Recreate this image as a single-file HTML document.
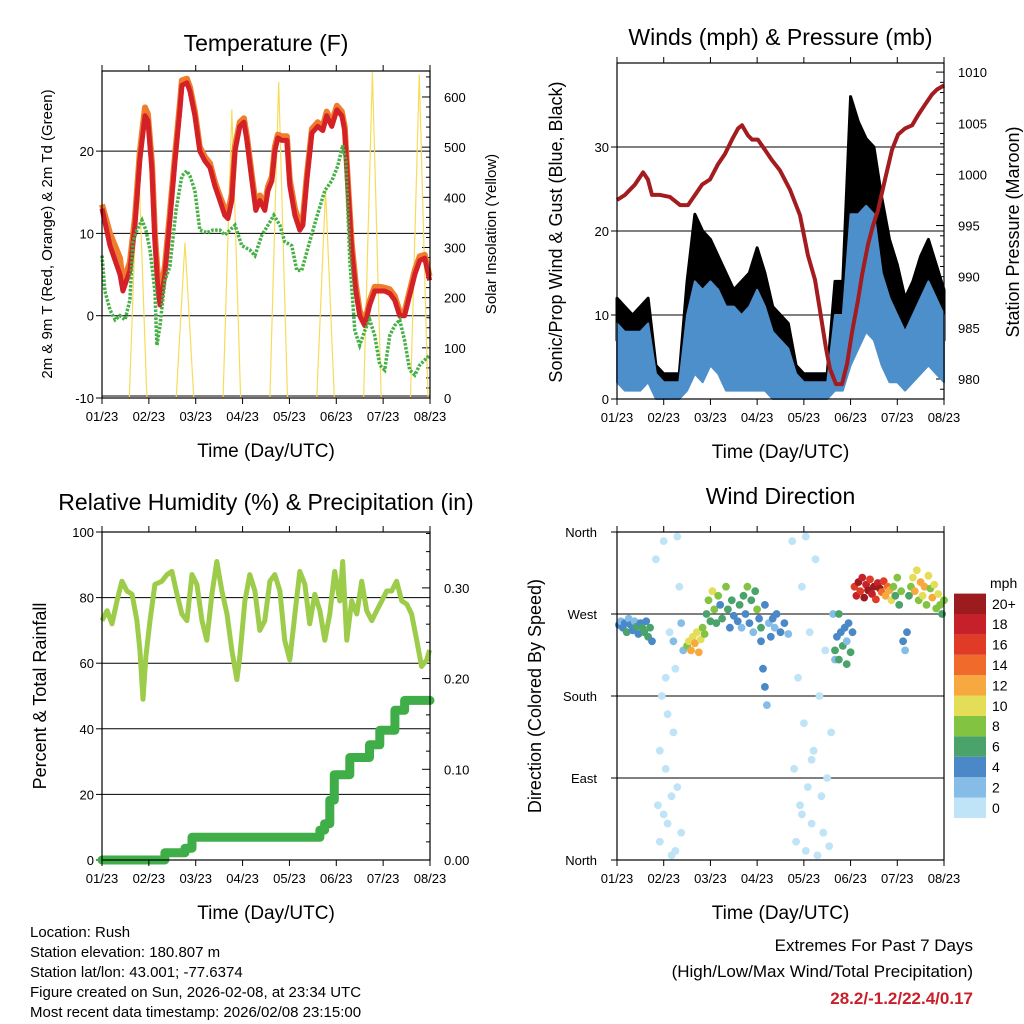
<!DOCTYPE html>
<html><head><meta charset="utf-8"><title>Station Meteogram - Rush</title>
<style>
html,body{margin:0;padding:0;background:#fff;}
svg{display:block;font-family:"Liberation Sans",Arial,sans-serif;}
</style></head>
<body>
<svg id="fig" xmlns="http://www.w3.org/2000/svg" width="1024" height="1024" viewBox="0 0 1024 1024">
<rect width="1024" height="1024" fill="#fff"/>
<g id="p1"></g>
<g id="p2"></g>
<g id="p3"></g>
<g id="p4"></g>
<g font-size="15" fill="#000">
<text x="30" y="937">Location: Rush</text>
<text x="30" y="957">Station elevation: 180.807 m</text>
<text x="30" y="977">Station lat/lon: 43.001; -77.6374</text>
<text x="30" y="997">Figure created on Sun, 2026-02-08, at 23:34 UTC</text>
<text x="30" y="1017">Most recent data timestamp: 2026/02/08 23:15:00</text>
</g>
<g text-anchor="end">
<text x="973" y="951" font-size="17">Extremes For Past 7 Days</text>
<text x="973" y="977" font-size="17">(High/Low/Max Wind/Total Precipitation)</text>
<text x="973" y="1004" font-size="17" font-weight="bold" fill="#c8202a">28.2/-1.2/22.4/0.17</text>
</g>
</svg>
<script>
// ---------- DATA ----------
const xTickLabels = ["01/23","02/23","03/23","04/23","05/23","06/23","07/23","08/23"];
// Temperature panel
const tempHours = [0,4.1,9.2,10.7,14.3,16.9,19.4,22,23.5,25.6,27.1,28.7,29.7,32.2,34.8,37.4,39.9,40.9,43.5,45,47.6,50.1,52.7,55.3,57.8,60.4,62.9,64.5,66.5,68.1,70.6,72.7,74.2,76.8,78.8,80.8,83.4,85,87,88.5,90.1,92.1,94.7,96.2,98.8,101.3,102.9,104.9,107.5,110.5,113.1,115.1,117.7,120.3,122.8,124.3,125.9,127.9,130,132,134.6,137.1,139.7,142.3,144.8,147.4,149.9,152.5,155,157.6,160.2,162.7,165.3,167.8];
const temp2m = [13,8.5,5,3,5.5,11,19,24.3,23.7,17.6,9,3,1.3,5,11.6,18.8,25,28,28.3,27.3,24.3,20,18.8,18,15.8,14,12.2,11.8,14,20,23,23.5,21.3,16.4,12.8,14,12.8,15.2,16.4,20,21.6,21.3,21.3,15.8,12.2,10.4,11,16.4,22.2,23,22.5,24.3,23,25,24.3,22.5,15.8,8,3,0,-1.2,1.3,3,3,3,2.7,1.9,0,0,2.5,5,6.7,7,4.3];
const temp9m = [13.5,10,7,4,6.5,12,20,25.3,24.5,18.5,10,4.5,2.5,6,12.5,19.5,25.8,28.6,28.8,27.8,24.8,20.5,19.3,18.5,16.3,14.5,13,12.5,14.8,20.6,23.5,24,21.8,17,13.5,14.6,13.5,15.7,16.9,20.5,22,21.8,21.8,16.5,13,11.2,11.8,17,22.7,23.5,23,24.8,23.5,25.5,24.8,23,16.5,8.8,3.8,0.6,-0.8,1.8,3.5,3.5,3.4,3.2,2.4,0.5,0.5,3,5.5,7.2,7.4,4.8];
const dewHours = [0,1.5,4.1,6.7,9.2,11.8,14.3,15.9,17.9,20.5,22.5,24.6,27.1,28.1,29.7,32.2,34.8,37.9,40.9,43.5,45,47.6,50.1,53.7,56.8,60.4,62.9,65.5,68.1,71.6,75.7,78.3,81.9,85,88,91.1,93.6,97.2,99.8,102.3,106.4,109.5,114.1,117.7,120.8,123.3,124.9,126.9,129.5,132,134.6,137.1,139.7,142.3,144.8,147.4,149.9,152.5,155,157.6,160.2,162.7,165.3,167.8];
const dewpoint = [7.3,3,0.7,-0.5,0,-0.5,1.9,9,10.4,11.6,10.4,8,3,-3.6,-1.2,4.3,6,12.8,17,17.6,17,15.2,10.4,10.1,10.4,10.4,9.8,10.4,11,8.5,8,7.3,9.8,11,12.2,11,9,8.5,5.5,5.5,9,11.6,15.2,16.4,18.2,20.7,18.8,6.7,-1.8,-3.6,-1.8,-0.5,-2.4,-6,-6.6,-2.4,-1.2,-0.5,-3,-6.6,-7.2,-6,-5.4,-4.8];
const solarStartHours = [14,38,62,86,110,134,158];
const solarEndHours = [23,47,71,95,119,143,167];
const solarPeak = [500,310,575,630,415,650,645];
const tempTicks = [-10,0,10,20];
const solarTicks = [0,100,200,300,400,500,600];
// Wind panel (4-hour bins, 0..168 h)
const windBinHours = [0,4,8,12,16,20,24,28,32,36,40,44,48,52,56,60,64,68,72,76,80,84,88,92,96,100,104,108,112,116,120,124,128,132,136,140,144,148,152,156,160,164,168];
const windLo = [2,1,1,1,2,0,0,0,0,1,3,2,4,3,1,1,1,1,1,1,0,0,0,0,0,0,0,0,1,1,4,6,8,7,4,2,2,1,2,3,4,3,2];
const windHi = [9,8,8,8,9,3,2,2,2,10,14,13,14,13,11,11,10,11,13,11,8,7,6,3,2,2,2,2,10,10,22,22,23,22,15,12,10,8,10,12,14,12,10];
const gustLo = [7,7,6,7,7,1,1,1,1,5,10,9,10,8,7,6,6,7,8,6,4,3,3,1,1,1,1,1,5,6,12,15,16,14,10,7,6,5,6,8,10,9,7];
const gustHi = [12,11,10,11,12,4,3,3,3,14,22,20,19,17,15,13,14,15,18,15,11,10,9,4,3,3,3,3,14,14,36,33,31,30,24,19,16,12,14,17,19,16,13];
const presHours = [0,4.1,9.2,13.4,15.9,18,22.1,27.2,32.4,36.5,40.1,43.7,47.8,51.9,55.5,59.1,62.2,64.2,67.3,69.4,72.4,76,79.6,83.7,88.9,94,98.1,101.7,104.3,107.4,109.4,112.5,115.6,118.2,120.7,123.8,125.9,128.9,131.5,134.1,137.7,141.3,144.4,148,151.6,154.7,158.2,161.8,164.4,168];
const pressure = [997.5,998,999,1000.2,999.5,998,998,997.8,997,997,998,999,999.5,1001,1002,1003.4,1004.5,1004.8,1003.8,1003.4,1003.4,1002.4,1001.4,1000.4,998.5,996,992.1,989.7,986.7,983,981,979.5,979.5,981.5,984.5,987.7,990.2,993.1,995,996.5,999.5,1002.4,1003.9,1004.5,1004.8,1005.8,1006.8,1007.8,1008.3,1008.7];
const windTicks = [0,10,20,30];
const presTicks = [980,985,990,995,1000,1005,1010];
// RH panel
const rhHours = [0,2.6,5.1,7.7,10.2,12.8,15.4,17.9,19.4,21,22.5,24.6,27.1,30.7,33.3,35.8,38.4,40.9,43.5,46.1,48.6,51.2,53.7,56.3,58.8,61.4,64,66.5,69.1,70.6,73.2,75.7,78.3,80.8,83.4,86,88.5,91.1,93.6,96.2,98.8,101.3,103.9,106.4,109,111.6,114.1,116.7,119.2,121.8,123.3,125.4,127.9,130.5,133,135.6,138.2,140.7,143.3,145.8,148.4,150.9,153.5,156.1,158.6,161.2,163.7,166.3,167.8];
const rh = [73,76,72,79,85,82,81,73,64,49,62,73,84,85,87,88,81,75,73,87,84,73,67,81,91,82,75,64,55,62,79,87,82,70,73,85,87,82,67,61,75,88,84,72,81,76,67,75,88,79,91,67,79,75,85,76,73,76,79,82,82,85,79,78,75,67,59,61,64];
const precipHours = [0,32.2,42.5,46.1,111.6,114,116.7,119,121.8,126.9,137,142.3,147.4,150,155,168];
const precipTotal = [0,0.008,0.013,0.025,0.033,0.04,0.066,0.094,0.094,0.113,0.127,0.143,0.143,0.165,0.176,0.176];
const rhTicks = [0,20,40,60,80,100];
const precipTicks = ["0.00","0.10","0.20","0.30"];
// Wind direction panel
const dirGroupA_h=[1,2,3,4,5,6,7,8,9,10,11,12,13,14,15,16,17,18];
const dirGroupA_d=[258,262,255,260,250,265,258,252,262,256,248,260,255,250,262,245,255,240];
const dirGroupA_s=[4,3,5,4,6,3,5,4,3,6,5,4,7,6,5,7,6,5];
const dirGroupB_h=[20,21,22,23,24,25,26,27,28,29,30,31,32,33,22,25,28,30,26,31,24,29,33,34];
const dirGroupB_d=[330,60,20,180,350,100,40,250,5,140,210,80,300,30,120,200,70,10,160,355,50,240,260,230];
const dirGroupB_s=[0,1,0,1,0,0,1,1,0,0,1,0,1,0,1,0,1,0,0,0,1,2,2,3];
const dirGroupC_h=[36,37,38,39,40,41,42,43,44,45];
const dirGroupC_d=[235,240,230,245,238,250,228,242,255,248];
const dirGroupC_s=[9,11,12,10,13,11,12,10,9,8];
const dirGroupD_h=[46,47,48,49,50,51,52,53,54,56,57,58,59,60];
const dirGroupD_d=[270,285,262,295,275,260,290,280,265,300,275,255,285,268];
const dirGroupD_s=[7,8,6,10,9,6,8,5,7,9,6,5,7,4];
const dirGroupE_h=[62,63,64,65,66,67,68,69,70,71,72,73,74,75,76,77,74,76,78,79,80,81,82,84,86,88];
const dirGroupE_d=[262,280,255,290,270,300,260,285,250,295,275,265,240,210,190,170,255,280,260,245,265,255,270,250,260,248];
const dirGroupE_s=[4,6,3,7,5,8,4,6,3,7,8,5,4,4,4,3,6,5,3,5,4,3,4,5,4,3];
const dirGroupF_h=[90,91,92,93,94,95,96,97,98,99,100,101,102,103,104,105,106,107,108,109,110,111,112,95,100,97];
const dirGroupF_d=[350,100,20,200,60,300,150,10,80,250,40,120,330,5,180,70,30,230,90,15,140,270,220,50,110,355];
const dirGroupF_s=[1,0,0,1,0,1,0,0,1,1,0,0,0,1,0,0,1,0,1,0,0,2,2,0,1,0];
const dirGroupG_h=[112,113,114,115,116,117,118,119,120,121,114,118];
const dirGroupG_d=[230,245,220,250,235,255,240,260,228,250,270,215];
const dirGroupG_s=[6,5,7,4,6,5,3,4,6,5,6,7];
const dirGroupH_h=[122,123,124,125,126,127,128,129,130,131,132,133,134,135,136,137,138,139,140,141];
const dirGroupH_d=[300,290,305,295,310,288,302,296,308,292,300,286,304,298,294,306,290,300,296,285];
const dirGroupH_s=[16,18,20,17,19,21,18,20,16,19,22,17,18,20,14,16,12,15,13,11];
const dirGroupI_h=[142,143,144,145,146,147,148,149,150,151];
const dirGroupI_d=[300,290,310,280,295,240,230,250,290,300];
const dirGroupI_s=[8,7,9,6,8,4,3,5,7,9];
const dirGroupJ_h=[152,153,154,155,156,157,158,159,160,161,162,163,164,165,166,167,168];
const dirGroupJ_d=[310,295,318,285,305,290,300,280,312,298,288,302,276,292,280,270,285];
const dirGroupJ_s=[10,12,11,9,13,10,12,8,11,9,12,10,8,11,9,7,8];
const dirHours = [].concat(dirGroupA_h,dirGroupB_h,dirGroupC_h,dirGroupD_h,dirGroupE_h,dirGroupF_h,dirGroupG_h,dirGroupH_h,dirGroupI_h,dirGroupJ_h);
const dirDeg = [].concat(dirGroupA_d,dirGroupB_d,dirGroupC_d,dirGroupD_d,dirGroupE_d,dirGroupF_d,dirGroupG_d,dirGroupH_d,dirGroupI_d,dirGroupJ_d);
const dirSpeed = [].concat(dirGroupA_s,dirGroupB_s,dirGroupC_s,dirGroupD_s,dirGroupE_s,dirGroupF_s,dirGroupG_s,dirGroupH_s,dirGroupI_s,dirGroupJ_s);
const dirTickLabels = ["North","East","South","West","North"];
const dirTickValues = [0,90,180,270,360];
const speedLabels = ["0","2","4","6","8","10","12","14","16","18","20+"];
const speedColors = ["#bfe3f7","#86bde6","#4a88c7","#4aa36b","#82c342","#e3dd58","#f7a83e","#f06a2b","#e03b27","#c6202a","#9c1b1f"];

// ---------- HELPERS ----------
const NS="http://www.w3.org/2000/svg";
function mk(parent,tag,attrs,text){const e=document.createElementNS(NS,tag);for(const k in attrs)e.setAttribute(k,attrs[k]);if(text!==undefined)e.textContent=text;parent.appendChild(e);return e;}
function pts(xs,ys,fx,fy){return xs.map((x,i)=>fx(x).toFixed(1)+","+fy(ys[i]).toFixed(1)).join(" ");}

function frame(g,x0,x1,y0,y1,title,titleY){
  xTickLabels.forEach((lab,i)=>{
    const x=x0+i*(x1-x0)/7;
    const t1=mk(g,"line",{x1:x,x2:x,y1:y1,y2:y1+6,stroke:"#000","stroke-width":1});
    
    
    const t2=mk(g,"line",{x1:x,x2:x,y1:y0,y2:y0-6,stroke:"#000","stroke-width":1});
    
    
    const tx=mk(g,"text",{x:x,y:y1+23,"font-size":13,"text-anchor":"middle"},lab);
    
    
  });
  const xt=mk(g,"text",{x:(x0+x1)/2,y:y1+59,"font-size":19,"text-anchor":"middle"},"Time (Day/UTC)");
  
  
  const tt=mk(g,"text",{x:(x0+x1)/2,y:titleY,"font-size":23,"text-anchor":"middle"},title);
  
  
}
function box(g,x0,x1,y0,y1){
  const r=mk(g,"rect",{x:x0,y:y0,width:x1-x0,height:y1-y0,fill:"none",stroke:"#000","stroke-width":1.2});
  
  
}
function ylab(g,x,y,txt,size,name){
  const t=mk(g,"text",{x:x,y:y,"font-size":size,"text-anchor":"middle",transform:`rotate(-90 ${x} ${y})`},txt);
  
  
}
function hgrid(g,x0,x1,y,name){
  const l=mk(g,"line",{x1:x0,x2:x1,y1:y,y2:y,stroke:"#000","stroke-width":1});
  
  
}
function ytick(g,x,y,len,lab,anchor,lx,name){
  const l=mk(g,"line",{x1:x,x2:x+len,y1:y,y2:y,stroke:"#000","stroke-width":1});
  
  
  if(lab!==null){
    const t=mk(g,"text",{x:lx,y:y+5,"font-size":13,"text-anchor":anchor},lab);
    
    
  }
}

// ---------- PANEL 1: Temperature ----------
(function(){
  const g=document.getElementById("p1");
  const x0=102,x1=430,y0=71,y1=398;
  const X=h=>x0+h/168*(x1-x0);
  const Y=v=>y1-(v+10)*8.23;
  const YS=v=>y1-v*0.5017;
  tempTicks.forEach(v=>{ if(v>-10) hgrid(g,x0,x1,Y(v),'temp-gridline'); ytick(g,x0,Y(v),-6,String(v),"end",x0-8,'temp-y'); });
  hgrid(g,x0,x1,y1-2,'temp-baseline');
  for(let v=0;v<=640;v+=20){ const major=v%100===0; ytick(g,x1,YS(v),major?-8:-4,major?String(v):null,"start",x1+14,'solar-y'); }
  solarPeak.forEach((p,i)=>{
    const s=solarStartHours[i],e=solarEndHours[i],m=(s+e)/2;
    const pl=mk(g,"polyline",{points:`${X(s)},${YS(0)} ${X(m)},${YS(p)} ${X(e)},${YS(0)}`,fill:"none",stroke:"#f7dc5a","stroke-width":1.2});
    
    
  });
  const o=mk(g,"polyline",{points:pts(tempHours,temp9m,X,Y),fill:"none",stroke:"#f07d2b","stroke-width":6,"stroke-linejoin":"round"});
  
  
  const r=mk(g,"polyline",{points:pts(tempHours,temp2m,X,Y),fill:"none",stroke:"#d42027","stroke-width":5,"stroke-linejoin":"round"});
  
  
  const d=mk(g,"polyline",{points:pts(dewHours,dewpoint,X,Y),fill:"none",stroke:"#45b046","stroke-width":3.5,"stroke-dasharray":"2.5 1.5"});
  
  
  box(g,x0,x1,y0,y1);
  frame(g,x0,x1,y0,y1,"Temperature (F)",51);
  ylab(g,52,234,"2m & 9m T (Red, Orange) & 2m Td (Green)",15,'temp-y-axis-title');
  ylab(g,496,234,"Solar Insolation (Yellow)",15,'solar-y-axis-title');
})();

// ---------- PANEL 2: Winds & Pressure ----------
(function(){
  const g=document.getElementById("p2");
  const x0=617,x1=944,y0=63,y1=399;
  const X=h=>x0+h/168*(x1-x0);
  const Y=v=>y1-v*8.4;
  const YP=v=>379-(v-980)*10.23;
  windTicks.forEach(v=>{ if(v>0) hgrid(g,x0,x1,Y(v),'wind-gridline'); ytick(g,x0,Y(v),-6,String(v),"end",x0-8,'wind-y'); });
  for(let v=979;v<=1010;v++){ const major=v%5===0; ytick(g,x1,YP(v),major?-8:-4,major?String(v):null,"start",x1+14,'pressure-y'); }
  const gp=windBinHours.map((h,i)=>X(h)+","+Y(gustHi[i])).concat(windBinHours.map((h,i)=>X(h)+","+Y(gustLo[i])).reverse()).join(" ");
  const gust=mk(g,"polygon",{points:gp,fill:"#000",stroke:"#000","stroke-width":3,"stroke-linejoin":"round"});
  
  
  const wp=windBinHours.map((h,i)=>X(h)+","+Y(windHi[i])).concat(windBinHours.map((h,i)=>X(h)+","+Y(windLo[i])).reverse()).join(" ");
  const wind=mk(g,"polygon",{points:wp,fill:"#4d8fcb",stroke:"#4d8fcb","stroke-width":2,"stroke-linejoin":"round"});
  
  
  const p=mk(g,"polyline",{points:pts(presHours,pressure,X,YP),fill:"none",stroke:"#a31c1f","stroke-width":4,"stroke-linejoin":"round"});
  
  
  box(g,x0,x1,y0,y1);
  frame(g,x0,x1,y0,y1,"Winds (mph) & Pressure (mb)",45);
  ylab(g,562,232,"Sonic/Prop Wind & Gust (Blue, Black)",18,'wind-y-axis-title');
  ylab(g,1019,232,"Station Pressure (Maroon)",18,'pressure-y-axis-title');
})();

// ---------- PANEL 3: RH & Precip ----------
(function(){
  const g=document.getElementById("p3");
  const x0=102,x1=430,y0=532,y1=860;
  const X=h=>x0+h/168*(x1-x0);
  const Y=v=>y1-v*3.28;
  const YR=v=>y1-v*907;
  rhTicks.forEach(v=>{ if(v>0&&v<100) hgrid(g,x0,x1,Y(v),'rh-gridline'); ytick(g,x0,Y(v),-6,String(v),"end",x0-8,'rh-y'); });
  for(let i=0;i<=36;i+=2){ const v=i/100; const major=i%10===0; ytick(g,x1,YR(v),major?-8:-4,major?precipTicks[i/10]:null,"start",x1+14,'precip-y'); }
  const stepPts=[];
  precipHours.forEach((h,i)=>{ if(i>0) stepPts.push(X(h).toFixed(1)+","+YR(precipTotal[i-1]).toFixed(1)); stepPts.push(X(h).toFixed(1)+","+YR(precipTotal[i]).toFixed(1)); });
  const pr=mk(g,"polyline",{points:stepPts.join(" "),fill:"none",stroke:"#3fae48","stroke-width":9,"stroke-linecap":"round","stroke-linejoin":"round"});
  
  
  const l=mk(g,"polyline",{points:pts(rhHours,rh,X,Y),fill:"none",stroke:"#9ccc4a","stroke-width":5,"stroke-linejoin":"round"});
  
  
  box(g,x0,x1,y0,y1);
  frame(g,x0,x1,y0,y1,"Relative Humidity (%) & Precipitation (in)",510);
  ylab(g,46,696,"Percent & Total Rainfall",18,'rh-y-axis-title');
})();

// ---------- PANEL 4: Wind Direction ----------
(function(){
  const g=document.getElementById("p4");
  const x0=617,x1=944,y0=532,y1=860;
  const X=h=>x0+h/168*(x1-x0);
  const Y=d=>y1-d*(y1-y0)/360;
  dirTickValues.forEach((v,i)=>{ if(v>0&&v<360) hgrid(g,x0,x1,Y(v),'direction-gridline'); ytick(g,x0,Y(v),-6,dirTickLabels[i],"end",x0-20,'direction-y'); });
  dirHours.forEach((h,i)=>{
    const c=speedColors[Math.min(10,Math.floor(dirSpeed[i]/2))];
    const pt=mk(g,"circle",{cx:X(h).toFixed(1),cy:Y(dirDeg[i]).toFixed(1),r:3.9,fill:c});
    
    
  });
  box(g,x0,x1,y0,y1);
  frame(g,x0,x1,y0,y1,"Wind Direction",504);
  ylab(g,541,696,"Direction (Colored By Speed)",18,'direction-y-axis-title');
  const cb=mk(g,"g",{});
  
  
  const bh=20.4, by=818;
  speedLabels.forEach((lab,i)=>{
    const rr=mk(cb,"rect",{x:954,y:(by-(i+1)*bh).toFixed(1),width:32,height:bh.toFixed(1),fill:speedColors[i]});
    
    
    const tx=mk(cb,"text",{x:992,y:(by-(i+0.5)*bh+5).toFixed(1),"font-size":14},lab);
    
    
  });
  const u=mk(cb,"text",{x:990,y:588,"font-size":14},"mph");
  
  
})();
</script>
</body></html>
